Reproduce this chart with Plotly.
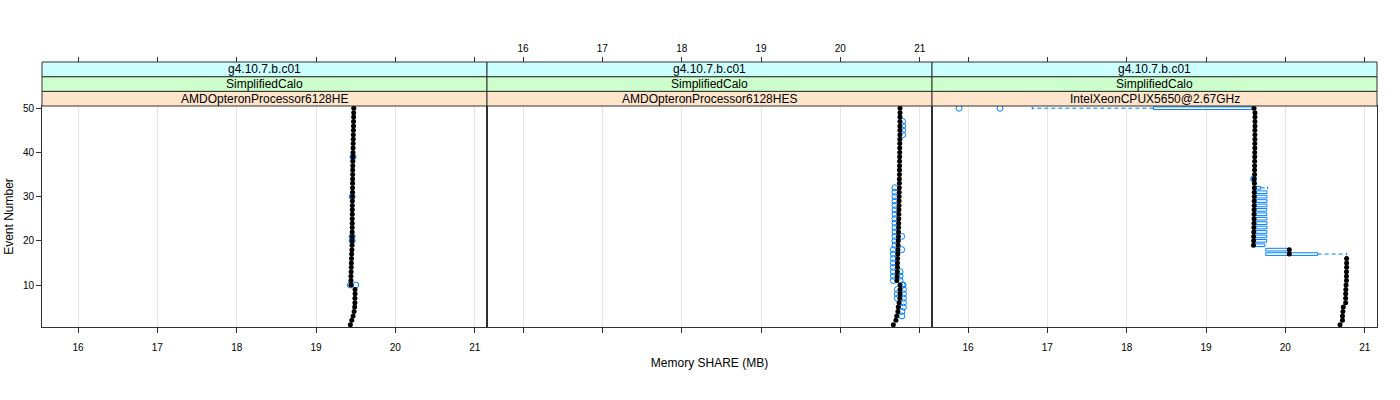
import plotly.graph_objects as go

# ---------------- data ----------------
events = list(range(1, 51))
x_ticks = [16, 17, 18, 19, 20, 21]
y_ticks = [10, 20, 30, 40, 50]

strip_version = ["g4.10.7.b.c01", "g4.10.7.b.c01", "g4.10.7.b.c01"]
strip_app = ["SimplifiedCalo", "SimplifiedCalo", "SimplifiedCalo"]
strip_cpu = ["AMDOpteronProcessor6128HE", "AMDOpteronProcessor6128HES", "IntelXeonCPUX5650@2.67GHz"]

# Panel 1 (AMDOpteronProcessor6128HE)
p1_median = [19.433, 19.451, 19.467, 19.48, 19.487, 19.49, 19.49, 19.492, 19.492, 19.44,
             19.44, 19.44, 19.442, 19.444, 19.445, 19.447, 19.449, 19.452, 19.454, 19.455,
             19.455, 19.455, 19.456, 19.456, 19.456, 19.457, 19.457, 19.457, 19.458, 19.458,
             19.46, 19.46, 19.461, 19.461, 19.462, 19.462, 19.463, 19.463, 19.465, 19.466,
             19.467, 19.468, 19.469, 19.47, 19.471, 19.472, 19.473, 19.474, 19.475, 19.476]
p1_box_event = []
p1_box_q1 = []
p1_box_q3 = []
p1_whisk_event = []
p1_whisk_from = []
p1_whisk_to = []
p1_out_event = [10, 10, 20, 21, 30, 39]
p1_out_value = [19.433, 19.50, 19.455, 19.455, 19.455, 19.466]

# Panel 2 (AMDOpteronProcessor6128HES)
p2_median = [20.668, 20.70, 20.71, 20.725, 20.73, 20.74, 20.75, 20.752, 20.752, 20.752,
             20.712, 20.715, 20.718, 20.72, 20.72, 20.722, 20.724, 20.726, 20.728, 20.73,
             20.732, 20.733, 20.734, 20.735, 20.736, 20.737, 20.738, 20.739, 20.74, 20.741,
             20.742, 20.743, 20.744, 20.744, 20.745, 20.745, 20.746, 20.746, 20.747, 20.748,
             20.748, 20.749, 20.749, 20.75, 20.75, 20.75, 20.751, 20.751, 20.752, 20.752]
p2_box_event = []
p2_box_q1 = []
p2_box_q3 = []
p2_whisk_event = []
p2_whisk_from = []
p2_whisk_to = []
p2_out_event = ([44, 45, 46, 47]
                + [19, 20, 21, 22, 23, 24, 25, 26, 27, 28, 29, 30, 31, 32]
                + [11, 12, 13, 14, 15, 16, 17, 18]
                + [21, 18, 11, 12, 13, 10, 10, 5, 6, 7, 8, 9, 7, 8, 9, 3, 4])
p2_out_value = ([20.785, 20.785, 20.785, 20.785]
                + [20.688] * 14
                + [20.668] * 8
                + [20.773, 20.773, 20.752, 20.752, 20.752, 20.79, 20.78,
                   20.795, 20.795, 20.795, 20.795, 20.795, 20.718, 20.718, 20.718, 20.775, 20.775])

# Panel 3 (IntelXeonCPUX5650@2.67GHz)
p3_median = [20.689, 20.72, 20.72, 20.725, 20.73, 20.76, 20.76, 20.76, 20.762, 20.765,
             20.77, 20.77, 20.77, 20.772, 20.772, 20.772, 20.05, 20.05, 19.598, 19.60,
             19.60, 19.602, 19.603, 19.604, 19.605, 19.605, 19.606, 19.607, 19.607, 19.608,
             19.608, 19.609, 19.61, 19.605, 19.612, 19.612, 19.613, 19.613, 19.614, 19.614,
             19.615, 19.615, 19.616, 19.616, 19.616, 19.617, 19.617, 19.617, 19.617, 19.605]
p3_box_event = [50, 17, 18, 19, 20, 21, 22, 23, 24, 25, 26, 27, 28, 29, 30, 31, 32]
p3_box_q1 = [18.336, 19.752, 19.752, 19.598, 19.60, 19.60, 19.602, 19.603, 19.604, 19.605,
             19.605, 19.606, 19.607, 19.607, 19.608, 19.608, 19.609]
p3_box_q3 = [19.605, 20.407, 20.05, 19.743, 19.765, 19.765, 19.768, 19.768, 19.768, 19.768,
             19.765, 19.765, 19.768, 19.768, 19.768, 19.768, 19.689]
p3_whisk_event = [50, 17, 32]
p3_whisk_from = [18.336, 20.407, 19.689]
p3_whisk_to = [16.81, 20.773, 19.777]
p3_out_event = [50, 50, 34]
p3_out_value = [15.887, 16.403, 19.60]

panels = [
    (p1_median, p1_box_event, p1_box_q1, p1_box_q3, p1_whisk_event, p1_whisk_from, p1_whisk_to, p1_out_event, p1_out_value),
    (p2_median, p2_box_event, p2_box_q1, p2_box_q3, p2_whisk_event, p2_whisk_from, p2_whisk_to, p2_out_event, p2_out_value),
    (p3_median, p3_box_event, p3_box_q1, p3_box_q3, p3_whisk_event, p3_whisk_from, p3_whisk_to, p3_out_event, p3_out_value),
]

# ---------------- style / layout ----------------
W, H = 1400, 400
ML, MR, MT, MB = 42, 23, 62, 73
PH = H - MT - MB
DATA_TOP = 221 / PH          # top of data region in paper coords
X_RANGE = [15.546, 21.155]
Y_RANGE = [0.5, 50.5]
BLUE = "#0080ff"
BORDER = "#303030"
FONT = "Liberation Sans, Arial, Helvetica, sans-serif"
BOX_HALF = 0.3
STRIP_COLORS = ["#ffe5cc", "#ccffcc", "#ccffff"]

fig = go.Figure()

for i, (med, bev, bq1, bq3, wev, wfr, wto, oev, oval) in enumerate(panels):
    xa = "x" if i == 0 else f"x{i+1}"
    ya = "y" if i == 0 else f"y{i+1}"
    # boxes
    bx, by = [], []
    for e, a, b in zip(bev, bq1, bq3):
        bx += [a, b, b, a, a, None]
        by += [e - BOX_HALF, e - BOX_HALF, e + BOX_HALF, e + BOX_HALF, e - BOX_HALF, None]
    if bx:
        fig.add_trace(go.Scatter(x=bx, y=by, mode="lines", line=dict(color=BLUE, width=1),
                                 xaxis=xa, yaxis=ya, showlegend=False, hoverinfo="skip"))
    # whiskers (dashed) and caps
    wx, wy, cx, cy = [], [], [], []
    for e, a, b in zip(wev, wfr, wto):
        wx += [a, b, None]
        wy += [e, e, None]
        cx += [b, b, None]
        cy += [e - BOX_HALF, e + BOX_HALF, None]
    if wx:
        fig.add_trace(go.Scatter(x=wx, y=wy, mode="lines", line=dict(color=BLUE, width=1, dash="4px,3px"),
                                 xaxis=xa, yaxis=ya, showlegend=False, hoverinfo="skip"))
        fig.add_trace(go.Scatter(x=cx, y=cy, mode="lines", line=dict(color=BLUE, width=1),
                                 xaxis=xa, yaxis=ya, showlegend=False, hoverinfo="skip"))
    # outliers
    if oev:
        fig.add_trace(go.Scatter(x=oval, y=oev, mode="markers",
                                 marker=dict(symbol="circle-open", size=6, color=BLUE, line=dict(width=1, color=BLUE)),
                                 xaxis=xa, yaxis=ya, showlegend=False, hoverinfo="skip"))
    # medians
    fig.add_trace(go.Scatter(x=med, y=events, mode="markers",
                             marker=dict(symbol="circle", size=5, color="black"),
                             xaxis=xa, yaxis=ya, showlegend=False))

# dummy traces for the top tick axes
for k in range(3):
    fig.add_trace(go.Scatter(x=[None], y=[None], xaxis=f"x{k+4}",
                             yaxis="y" if k == 0 else f"y{k+1}",
                             showlegend=False, hoverinfo="skip"))

layout = dict(
    width=W, height=H,
    margin=dict(l=ML, r=MR, t=MT, b=MB, pad=0, autoexpand=False),
    paper_bgcolor="white", plot_bgcolor="white",
    font=dict(family=FONT, size=10, color="black"),
    showlegend=False,
)

for i in range(3):
    d0, d1 = i / 3, (i + 1) / 3
    xkey = "xaxis" if i == 0 else f"xaxis{i+1}"
    ykey = "yaxis" if i == 0 else f"yaxis{i+1}"
    ya = "y" if i == 0 else f"y{i+1}"
    xa = "x" if i == 0 else f"x{i+1}"
    layout[xkey] = dict(domain=[d0, d1], anchor=ya, range=X_RANGE, tickvals=x_ticks,
                        ticks="outside", ticklen=5, tickcolor=BORDER, showticklabels=(i != 1),
                        ticklabelstandoff=6, automargin=False,
                        showgrid=True, gridcolor="#e6e6e6", gridwidth=1, zeroline=False,
                        showline=True, mirror=True, linecolor=BORDER, linewidth=1,
                        tickfont=dict(size=10))
    layout[ykey] = dict(domain=[0, DATA_TOP], anchor=xa,
                        range=Y_RANGE, tickvals=y_ticks, automargin=False,
                        ticks="outside" if i == 0 else "", ticklen=5, tickcolor=BORDER,
                        showticklabels=(i == 0), showgrid=False, zeroline=False,
                        showline=True, mirror=True, linecolor=BORDER, linewidth=1,
                        tickfont=dict(size=10))
    # top tick axes
    layout[f"xaxis{i+4}"] = dict(overlaying=xa, side="top",
                                 anchor="free", position=1.0, range=X_RANGE, tickvals=x_ticks,
                                 ticks="outside", ticklen=5, tickcolor=BORDER, automargin=False,
                                 ticklabelstandoff=1,
                                 showticklabels=(i == 1), showgrid=False, zeroline=False,
                                 showline=False, tickfont=dict(size=10))

layout["xaxis2"]["title"] = dict(text="Memory SHARE (MB)", font=dict(size=12), standoff=26)
layout["yaxis"]["title"] = dict(text="Event Number", font=dict(size=12), standoff=6)

shapes, annotations = [], []
strip_h = (1 - DATA_TOP) / 3
for i in range(3):
    d0, d1 = i / 3, (i + 1) / 3
    texts = [strip_cpu[i], strip_app[i], strip_version[i]]
    for k in range(3):
        y0 = DATA_TOP + k * strip_h
        y1 = y0 + strip_h
        shapes.append(dict(type="rect", xref="paper", yref="paper", x0=d0, x1=d1, y0=y0, y1=y1,
                           fillcolor=STRIP_COLORS[k], line=dict(color=BORDER, width=1), layer="above"))
        annotations.append(dict(xref="paper", yref="paper", x=(d0 + d1) / 2, y=(y0 + y1) / 2,
                                text=texts[k], showarrow=False, font=dict(size=12, color="black"),
                                xanchor="center", yanchor="middle"))
layout["shapes"] = shapes
layout["annotations"] = annotations

fig.update_layout(**layout)
fig.write_html("out.html")
